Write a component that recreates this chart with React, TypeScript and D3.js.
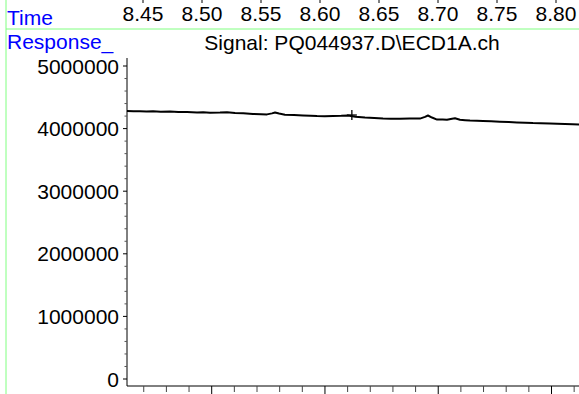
import React from "react";
import * as d3 from "d3";

const W = 579;
const H = 394;

// Top time axis labels (minutes)
const topTimes = [8.45, 8.5, 8.55, 8.6, 8.65, 8.7, 8.75, 8.8];
// Y axis ticks
const yMajor = [0, 1000000, 2000000, 3000000, 4000000, 5000000];
// Signal trace: time (min) and response
const sigTime = [
  8.4364, 8.4420, 8.4475, 8.4530, 8.4585, 8.4650, 8.4729, 8.4800, 8.4873, 8.4958,
  8.5010, 8.5068, 8.5153, 8.5212, 8.5280, 8.5350, 8.5432, 8.5500, 8.5551, 8.5593,
  8.5619, 8.5653, 8.5703, 8.5780, 8.5856, 8.5920, 8.5975, 8.6040, 8.6110, 8.6180,
  8.6237, 8.6300, 8.6381, 8.6460, 8.6534, 8.6600, 8.6678, 8.6760, 8.6847, 8.6890,
  8.6915, 8.6949, 8.6992, 8.7040, 8.7076, 8.7119, 8.7144, 8.7186, 8.7230, 8.7271,
  8.7330, 8.7381, 8.7450, 8.7525, 8.7600, 8.7669, 8.7740, 8.7805, 8.7870, 8.7949,
  8.8010, 8.8076, 8.8140, 8.8195,
];
const sigValue = [
  4281000, 4276000, 4279000, 4272000, 4277000, 4270000, 4273000, 4266000, 4266000, 4258000,
  4262000, 4254000, 4256000, 4262000, 4249000, 4244000, 4234000, 4230000, 4227000, 4243000,
  4257000, 4240000, 4222000, 4216000, 4211000, 4207000, 4201000, 4198000, 4202000, 4204000,
  4208000, 4190000, 4177000, 4170000, 4161000, 4158000, 4157000, 4161000, 4160000, 4188000,
  4209000, 4177000, 4144000, 4145000, 4141000, 4157000, 4164000, 4141000, 4135000, 4129000,
  4126000, 4121000, 4116000, 4109000, 4104000, 4099000, 4094000, 4089000, 4087000, 4083000,
  4078000, 4073000, 4070000, 4067000,
];
// Marker "+" on trace
const markTime = [8.627];
const markValue = [4217000];

export default function App() {
  const axisX = 127;
  const axisBottom = 386;
  const axisTop = 58;

  const xTop = d3.scaleLinear().domain([8.45, 8.8]).range([143, 556]);
  const xBottom = d3.scaleLinear().domain([8.5, 8.8]).range([211.7, 551.5]);
  const y = d3.scaleLinear().domain([0, 5000000]).range([379, 66]);

  const bottomTicks = d3.range(8.44, 8.8201, 0.02).filter((t) => xBottom(t) > axisX + 2 && xBottom(t) <= W);
  const yMinor = d3.range(0, 5000001, 200000).filter((v) => v % 1000000 !== 0);

  const line = d3
    .line<number>()
    .x((_, i) => xTop(sigTime[i]))
    .y((v) => y(v));

  const font = "'Liberation Sans', Arial, sans-serif";
  const fs = 21;

  return (
    <svg
      width={W}
      height={H}
      style={{ position: "absolute", left: 0, top: 0, background: "#fff" }}
      fontFamily={font}
    >
      <rect x={0} y={0} width={W} height={H} fill="#fff" />
      {/* green frame lines */}
      <line x1={6} x2={6} y1={0} y2={H} stroke="#80ff80" strokeWidth={1} />
      <line x1={6} x2={W} y1={29} y2={29} stroke="#80ff80" strokeWidth={1} />

      {/* header */}
      <text x={7} y={25} fill="#0000ff" fontSize={fs}>Time</text>
      {topTimes.map((t) => (
        <g key={t}>
          <line x1={xTop(t)} x2={xTop(t)} y1={0} y2={3} stroke="#000" />
          <text x={xTop(t)} y={20.5} textAnchor="middle" fontSize={fs} fill="#000">
            {t.toFixed(2)}
          </text>
        </g>
      ))}
      <text x={7} y={49} fill="#0000ff" fontSize={fs}>Response_</text>
      <text x={352} y={50} textAnchor="middle" fontSize={fs} fill="#000">
        Signal: PQ044937.D\ECD1A.ch
      </text>

      {/* y axis */}
      <line x1={axisX} x2={axisX} y1={axisTop} y2={axisBottom} stroke="#000" />
      {yMajor.map((v) => (
        <g key={v}>
          <line x1={axisX - 4} x2={axisX} y1={y(v)} y2={y(v)} stroke="#000" />
          <text x={119} y={y(v)} dy="0.36em" textAnchor="end" fontSize={fs} fill="#000">
            {v}
          </text>
        </g>
      ))}
      {yMinor.map((v) => (
        <line key={v} x1={axisX - 2.5} x2={axisX} y1={y(v)} y2={y(v)} stroke="#555" />
      ))}

      {/* bottom axis */}
      <line x1={axisX} x2={W} y1={axisBottom} y2={axisBottom} stroke="#000" />
      {bottomTicks.map((t, i) => {
        const major = Math.abs(Math.round(t * 10) / 10 - t) < 1e-6;
        return (
          <line
            key={i}
            x1={xBottom(t)}
            x2={xBottom(t)}
            y1={axisBottom}
            y2={axisBottom + (major ? 8 : 6)}
            stroke={major ? "#000" : "#444"}
          />
        );
      })}

      {/* trace */}
      <path d={line(sigValue) || ""} fill="none" stroke="#000" strokeWidth={2} strokeLinejoin="round" />
      {markTime.map((t, i) => (
        <g key={i} stroke="#000" strokeWidth={1.3}>
          <line x1={xTop(t) - 5} x2={xTop(t) + 5} y1={y(markValue[i])} y2={y(markValue[i])} />
          <line x1={xTop(t)} x2={xTop(t)} y1={y(markValue[i]) - 5} y2={y(markValue[i]) + 5} />
        </g>
      ))}
    </svg>
  );
}
